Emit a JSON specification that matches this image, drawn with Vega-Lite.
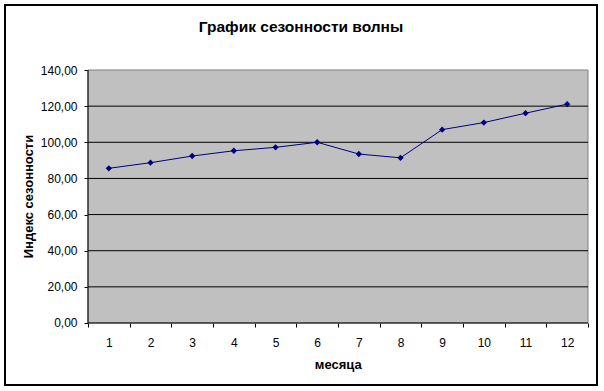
{
  "$schema": "https://vega.github.io/schema/vega-lite/v6.json",
  "width": 592,
  "height": 380,
  "autosize": {"type": "none"},
  "padding": {"left": 5, "top": 5, "right": 7, "bottom": 6},
  "background": "white",
  "config": {"view": {"stroke": "black", "strokeWidth": 2}, "font": "Liberation Sans"},
  "title": {"text": "График сезонности волны", "font": "Liberation Sans", "fontSize": 15.5, "fontWeight": "bold", "color": "black", "anchor": "middle", "frame": "group", "offset": -42, "baseline": "alphabetic"},
  "encoding": {
    "x": {
      "field": "month", "type": "quantitative",
      "scale": {"domain": [-1.492, 12.716], "nice": false, "zero": false},
      "axis": {
        "orient": "bottom", "offset": -62,
        "values": [0.5, 1, 1.5, 2, 2.5, 3, 3.5, 4, 4.5, 5, 5.5, 6, 6.5, 7, 7.5, 8, 8.5, 9, 9.5, 10, 10.5, 11, 11.5, 12, 12.5],
        "domain": false, "grid": false,
        "tickColor": "black", "tickSize": 4,
        "tickOpacity": {"condition": {"test": "datum.value % 1 === 0", "value": 0}, "value": 1},
        "labelExpr": "datum.value % 1 === 0 ? format(datum.value, 'd') : ''",
        "labelFont": "Liberation Sans", "labelFontSize": 12, "labelColor": "black",
        "labelBaseline": "alphabetic", "labelPadding": 19,
        "labelOverlap": false, "labelFlush": false, "labelBound": false,
        "title": "месяца", "titleFont": "Liberation Sans", "titleFontSize": 13, "titleFontWeight": "bold", "titleColor": "black",
        "titleX": 332.7, "titleY": 45, "titleBaseline": "alphabetic", "titleAlign": "center"
      }
    },
    "y": {
      "field": "index", "type": "quantitative",
      "scale": {"domain": [-34.31, 175.97], "nice": false, "zero": false},
      "axis": {
        "orient": "left", "offset": -83,
        "values": [0, 20, 40, 60, 80, 100, 120, 140],
        "domain": false, "grid": false,
        "tickColor": "black", "tickSize": 4,
        "labelExpr": "replace(format(datum.value, '.2f'), '.', ',')",
        "labelFont": "Liberation Sans", "labelFontSize": 12, "labelColor": "black",
        "labelPadding": 7, "labelOverlap": false, "labelFlush": false, "labelBound": false,
        "title": "Индекс сезонности", "titleFont": "Liberation Sans", "titleFontSize": 13, "titleFontWeight": "bold", "titleColor": "black",
        "titleX": -60, "titleY": 191, "titleBaseline": "middle", "titleAlign": "center", "titleAngle": -90
      }
    }
  },
  "layer": [
    {
      "data": {"values": [{"month": 0.5, "month_end": 12.5, "index": 0, "index_end": 140}]},
      "mark": {"type": "rect", "fill": "#c0c0c0", "stroke": "#808080", "strokeWidth": 1},
      "encoding": {"x2": {"field": "month_end"}, "y2": {"field": "index_end"}}
    },
    {
      "data": {"values": [
        {"month": 0.5, "month_end": 12.5, "index": 20},
        {"month": 0.5, "month_end": 12.5, "index": 40},
        {"month": 0.5, "month_end": 12.5, "index": 60},
        {"month": 0.5, "month_end": 12.5, "index": 80},
        {"month": 0.5, "month_end": 12.5, "index": 100},
        {"month": 0.5, "month_end": 12.5, "index": 120}
      ]},
      "mark": {"type": "rule", "color": "black", "strokeWidth": 1},
      "encoding": {"x2": {"field": "month_end"}}
    },
    {
      "data": {"values": [
        {"month": 0.5, "month_end": 0.5, "index": 0, "index_end": 140},
        {"month": 0.5, "month_end": 12.5, "index": 0, "index_end": 0}
      ]},
      "mark": {"type": "rule", "color": "black", "strokeWidth": 1},
      "encoding": {"x2": {"field": "month_end"}, "y2": {"field": "index_end"}}
    },
    {
      "data": {"values": [
        {"month": 1, "index": 85.6},
        {"month": 2, "index": 88.7},
        {"month": 3, "index": 92.4},
        {"month": 4, "index": 95.3},
        {"month": 5, "index": 97.2},
        {"month": 6, "index": 100.0},
        {"month": 7, "index": 93.5},
        {"month": 8, "index": 91.4},
        {"month": 9, "index": 107.0},
        {"month": 10, "index": 110.9},
        {"month": 11, "index": 116.1},
        {"month": 12, "index": 121.1}
      ]},
      "mark": {"type": "line", "color": "#000080", "strokeWidth": 1, "point": {"shape": "diamond", "size": 40, "filled": true, "color": "#000080"}}
    }
  ]
}
